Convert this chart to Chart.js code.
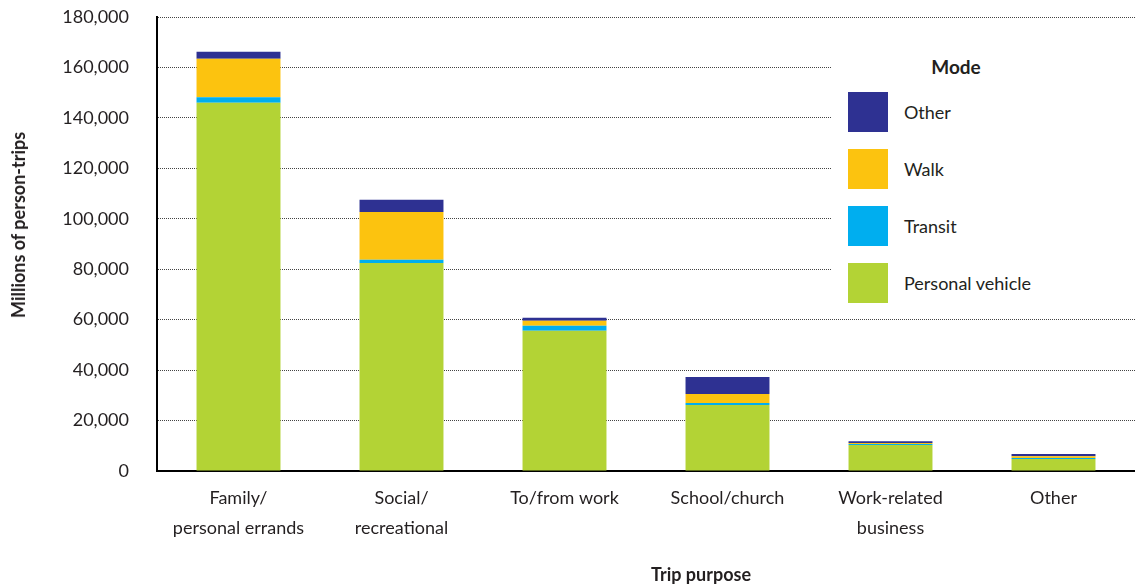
<!DOCTYPE html>
<html>
<head>
<meta charset="utf-8">
<script src="https://cdn.jsdelivr.net/npm/chart.js@4"></script>
<style>
  body { margin: 0; background: #fff; overflow: hidden; }
  #wrap { position: relative; width: 1135px; height: 588px; font-family: Lato, sans-serif; color: #231f20; }
  #legend { position: absolute; left: 832px; top: 35px; width: 303px; height: 275px; background: #fff; }
  #legend .ttl { position: absolute; left: 0; width: 248px; top: 20px; text-align: center; font-weight: bold; font-size: 19px; }
  #legend .item { position: absolute; left: 16px; height: 40px; line-height: 40px; font-size: 18px; }
  #legend .sw { display: inline-block; width: 40px; height: 40px; vertical-align: top; margin-right: 16px; }
  .axt { position: absolute; font-weight: bold; font-size: 18px; white-space: nowrap; }
  canvas { display: block; }
</style>
</head>
<body>
<div id="wrap">
  <canvas id="myChart" width="1135" height="588"></canvas>
  <div id="legend"></div>
  <div class="axt" id="ytitle" style="left:18px; top:225px; transform: translate(-50%,-50%) rotate(-90deg);">Millions of person-trips</div>
  <div class="axt" id="xtitle" style="left:701px; top:574px; transform: translate(-50%,-50%);">Trip purpose</div>
</div>
<script>
var purposes = [["Family/", "personal errands"], ["Social/", "recreational"], "To/from work", "School/church", ["Work-related", "business"], "Other"];
var personalVehicle = [146000, 82500, 55600, 26200, 10300, 4800];
var transit = [2200, 1300, 2000, 800, 400, 400];
var walk = [15200, 18900, 2000, 3500, 400, 600];
var other = [2800, 4800, 1200, 6800, 700, 900];
var modeNames = ["Personal vehicle", "Transit", "Walk", "Other"];
var modeColors = ["#b3d335", "#00aeef", "#fcc30f", "#2e3192"];

var series = [personalVehicle, transit, walk, other];
var datasets = [];
for (var i = 0; i < series.length; i++) {
    datasets.push({
        label: modeNames[i],
        data: series[i],
        backgroundColor: modeColors[i],
        borderWidth: 0,
        barPercentage: 0.515,
        categoryPercentage: 1
    });
}

// legend, top item is the top of the stack
var leg = document.getElementById('legend');
var t = document.createElement('div');
t.className = 'ttl';
t.textContent = 'Mode';
leg.appendChild(t);
for (var j = 0; j < 4; j++) {
    var k = 3 - j;
    var it = document.createElement('div');
    it.className = 'item';
    it.style.top = (57 + j * 57) + 'px';
    it.innerHTML = '<span class="sw" style="background:' + modeColors[k] + '"></span>' + modeNames[k];
    leg.appendChild(it);
}

var ctx = document.getElementById('myChart').getContext('2d');
var chart = new Chart(ctx, {
    type: 'bar',
    data: { labels: purposes, datasets: datasets },
    options: {
        responsive: false,
        animation: false,
        layout: { padding: { top: 17, right: 0, left: 0, bottom: 0 } },
        plugins: { legend: { display: false }, tooltip: { enabled: false } },
        scales: {
            x: {
                stacked: true,
                grid: { display: false, drawTicks: false },
                border: { color: '#000', width: 2 },
                ticks: { color: '#231f20', font: { family: 'Lato', size: 18, lineHeight: 1.62 }, padding: 13, maxRotation: 0, autoSkip: false },
                afterFit: function(s) { s.height = 117; }
            },
            y: {
                stacked: true,
                min: 0,
                max: 180000,
                grid: { color: '#444', lineWidth: 1, drawTicks: false },
                border: { color: '#000', width: 2, dash: [1, 1] },
                ticks: {
                    stepSize: 20000,
                    color: '#231f20',
                    padding: 28,
                    font: { family: 'Lato', size: 18 },
                    callback: function(v) { return v.toLocaleString('en-US'); }
                },
                afterFit: function(s) {
                    s.width = 157;
                    // tick padding is horizontal only here
                    s.paddingTop = 0;
                    s.paddingBottom = 0;
                }
            }
        }
    }
});
</script>
</body>
</html>
